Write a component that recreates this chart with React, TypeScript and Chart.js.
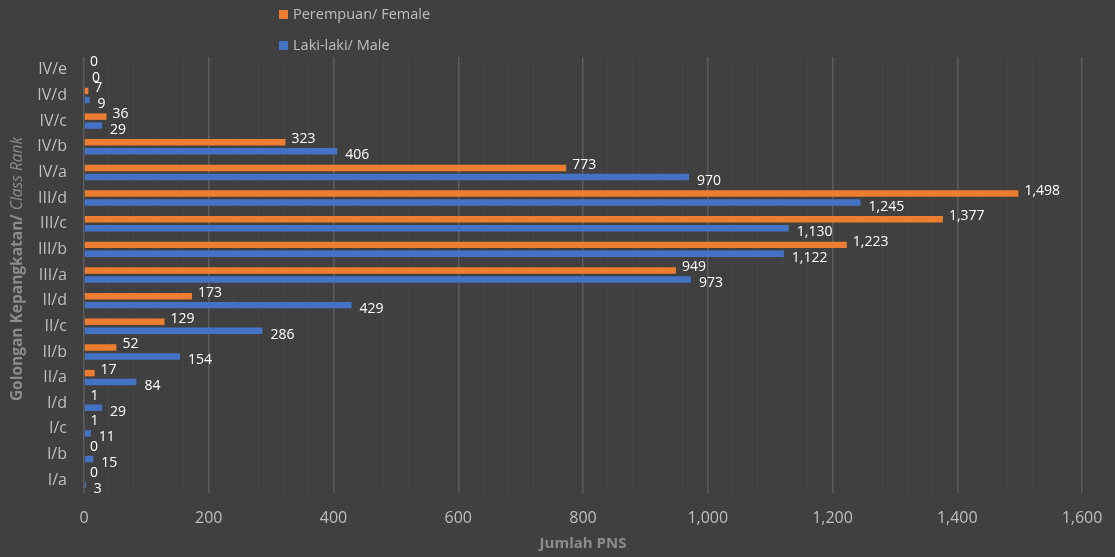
import React, { useEffect, useRef } from "react";
import { Chart, registerables } from "chart.js";

Chart.register(...registerables);

const categories = ["IV/e", "IV/d", "IV/c", "IV/b", "IV/a", "III/d", "III/c", "III/b", "III/a", "II/d", "II/c", "II/b", "II/a", "I/d", "I/c", "I/b", "I/a"];
const femaleValues = [0, 7, 36, 323, 773, 1498, 1377, 1223, 949, 173, 129, 52, 17, 1, 1, 0, 0];
const maleValues = [0, 9, 29, 406, 970, 1245, 1130, 1122, 973, 429, 286, 154, 84, 29, 11, 15, 3];
const femaleLabel = "Perempuan/ Female";
const maleLabel = "Laki-laki/ Male";
const xAxisTitle = "Jumlah PNS";
const yTitleBold = "Golongan Kepangkatan/ ";
const yTitleItalic = "Class Rank";

const FONT = "'Open Sans', Lato, sans-serif";
const ORANGE = "#ED7D31";
const BLUE = "#4472C4";

const labelsPlugin = {
  id: "valueLabels",
  afterDatasetsDraw(chart: any) {
    const ctx = chart.ctx;
    ctx.save();
    ctx.font = `14px ${FONT}`;
    ctx.fillStyle = "#ffffff";
    ctx.textAlign = "left";
    ctx.textBaseline = "middle";
    chart.data.datasets.forEach((ds: any, di: number) => {
      const meta = chart.getDatasetMeta(di);
      meta.data.forEach((el: any, i: number) => {
        const v = ds.data[i] as number;
        const txt = v.toLocaleString("en-US");
        const dx = di === 0 ? 6 : 8;
        const dy = di === 0 ? -3 : 4;
        ctx.fillText(txt, el.x + dx, el.y + dy);
      });
    });
    ctx.restore();
  },
};

const decorPlugin = {
  id: "decor",
  afterDraw(chart: any) {
    const ctx = chart.ctx;
    const area = chart.chartArea;
    ctx.save();
    const items = [
      { color: ORANGE, text: femaleLabel, y: 15 },
      { color: BLUE, text: maleLabel, y: 46 },
    ];
    ctx.font = `14.5px ${FONT}`;
    ctx.textBaseline = "middle";
    ctx.textAlign = "left";
    items.forEach((it) => {
      ctx.fillStyle = it.color;
      ctx.fillRect(279, it.y - 5, 9, 9);
      ctx.fillStyle = "#bfbfbf";
      ctx.fillText(it.text, 293, it.y);
    });
    const cy = (area.top + area.bottom) / 2 - 6;
    ctx.translate(18, cy);
    ctx.rotate(-Math.PI / 2);
    ctx.fillStyle = "#8c8c8c";
    ctx.font = `bold 15.5px ${FONT}`;
    const w1 = ctx.measureText(yTitleBold).width;
    ctx.font = `italic 15.5px ${FONT}`;
    const w2 = ctx.measureText(yTitleItalic).width;
    const start = -(w1 + w2) / 2;
    ctx.font = `bold 15.5px ${FONT}`;
    ctx.fillText(yTitleBold, start, 0);
    ctx.font = `italic 15.5px ${FONT}`;
    ctx.fillText(yTitleItalic, start + w1, 0);
    ctx.restore();
  },
};

export default function App() {
  const ref = useRef<HTMLCanvasElement | null>(null);
  useEffect(() => {
    if (!ref.current) return;
    const chart = new Chart(ref.current, {
      type: "bar",
      data: {
        labels: categories,
        datasets: [
          { label: femaleLabel, data: femaleValues, backgroundColor: ORANGE, categoryPercentage: 0.7, barPercentage: 0.72 },
          { label: maleLabel, data: maleValues, backgroundColor: BLUE, categoryPercentage: 0.7, barPercentage: 0.72 },
        ],
      },
      options: {
        indexAxis: "y",
        responsive: false,
        animation: false,
        devicePixelRatio: 1,
        layout: { padding: { top: 57, right: 33, left: 0, bottom: 0 } },
        plugins: {
          legend: { display: false },
          tooltip: { enabled: false },
          title: { display: false },
        },
        scales: {
          x: {
            min: 0,
            max: 1600,
            ticks: {
              stepSize: 40,
              autoSkip: false,
              maxRotation: 0,
              color: "#bfbfbf",
              font: { family: FONT, size: 16 },
              padding: 16,
              callback: (v: any) => (Number(v) % 200 === 0 ? Number(v).toLocaleString("en-US") : ""),
            },
            grid: {
              drawTicks: false,
              color: (c: any) => (c.tick && c.tick.value % 200 === 0 ? "#5c5c5c" : "#464646"),
              lineWidth: (c: any) => (c.tick && c.tick.value % 200 === 0 ? 1.5 : 1),
            },
            border: { display: false },
            title: {
              display: true,
              text: xAxisTitle,
              color: "#8c8c8c",
              font: { family: FONT, size: 15, weight: "bold" },
              padding: { top: 0, bottom: 4 },
            },
            afterFit: (s: any) => {
              s.height = 64;
              s.paddingRight = 0;
              s.paddingLeft = 0;
            },
          },
          y: {
            ticks: {
              color: "#bfbfbf",
              font: { family: FONT, size: 16 },
              padding: 17,
            },
            grid: { display: false, drawTicks: false },
            border: { display: false },
            afterFit: (s: any) => {
              s.width = 84;
            },
          },
        },
      },
      plugins: [labelsPlugin, decorPlugin],
    });
    return () => chart.destroy();
  }, []);
  return (
    <div style={{ position: "fixed", left: 0, top: 0, width: 1115, height: 557, background: "#404040" }}>
      <canvas ref={ref} width={1115} height={557} style={{ width: 1115, height: 557, display: "block" }} />
    </div>
  );
}
